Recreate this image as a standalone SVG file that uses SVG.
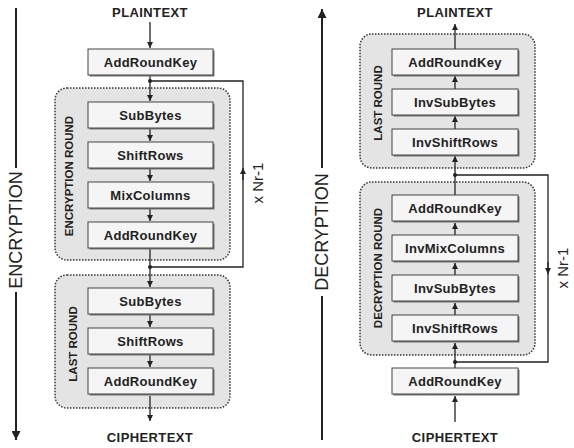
<svg xmlns="http://www.w3.org/2000/svg" width="574" height="448" viewBox="0 0 574 448">
<defs>
<marker id="ah" viewBox="0 0 10 10" refX="10" refY="5" markerWidth="6" markerHeight="6" orient="auto" markerUnits="userSpaceOnUse"><path d="M0,0 L10,5 L0,10 z" fill="#222"/></marker>
<marker id="ahb" viewBox="0 0 10 10" refX="10" refY="5" markerWidth="9" markerHeight="9" orient="auto" markerUnits="userSpaceOnUse"><path d="M0,0 L10,5 L0,10 z" fill="#222"/></marker>
</defs>
<style>
.round{fill:#e4e4e4;stroke:#333;stroke-width:1.5;stroke-dasharray:1.5 1.5}
.sh{fill:#777}
.box{fill:#f5f5f5;stroke:#444;stroke-width:1}
.bt{font-family:"Liberation Sans",Arial,sans-serif;font-weight:bold;font-size:13px;letter-spacing:0.3px;fill:#222;text-anchor:middle}
.io{font-family:"Liberation Sans",Arial,sans-serif;font-weight:bold;font-size:13px;letter-spacing:0.4px;fill:#222;text-anchor:middle}
.rl{font-family:"Liberation Sans",Arial,sans-serif;font-weight:bold;font-size:11.5px;fill:#222;text-anchor:middle}
.big{font-family:"Liberation Sans",Arial,sans-serif;font-size:18px;fill:#222;text-anchor:middle}
.nr{font-family:"Liberation Sans",Arial,sans-serif;font-size:15px;fill:#222;text-anchor:middle}
.ln{stroke:#222;stroke-width:1.3;fill:none}
.bl{stroke:#222;stroke-width:2;fill:none}
.dot{fill:#222}
</style>
<!-- side labels -->
<g id="enc-label">
<line class="bl" x1="16" y1="8" x2="16" y2="168"/>
<line class="bl" x1="16" y1="292" x2="16" y2="440" marker-end="url(#ahb)"/>
<text class="big" transform="translate(22,230) rotate(-90)">ENCRYPTION</text>
</g>
<g id="dec-label">
<line class="bl" x1="322" y1="440" x2="322" y2="296"/>
<line class="bl" x1="322" y1="168" x2="322" y2="9" marker-end="url(#ahb)"/>
<text class="big" transform="translate(328,232) rotate(-90)">DECRYPTION</text>
</g>
<!-- round groups -->
<g id="enc-round">
<rect class="round" x="55" y="88" width="175" height="172" rx="12"/>
<text class="rl" transform="translate(73,176) rotate(-90)">ENCRYPTION ROUND</text>
</g>
<g id="enc-last">
<rect class="round" x="55" y="275" width="175" height="133" rx="12"/>
<text class="rl" transform="translate(77,344) rotate(-90)">LAST ROUND</text>
</g>
<g id="dec-last">
<rect class="round" x="360" y="34" width="175" height="134" rx="12"/>
<text class="rl" transform="translate(382,103) rotate(-90)">LAST ROUND</text>
</g>
<g id="dec-round">
<rect class="round" x="360" y="182" width="175" height="173" rx="12"/>
<text class="rl" transform="translate(382,268) rotate(-90)">DECRYPTION ROUND</text>
</g>
<!-- connectors -->
<g id="connectors">
<line class="ln" x1="150" y1="22" x2="150" y2="48" marker-end="url(#ah)"/>
<line class="ln" x1="150" y1="75" x2="150" y2="101" marker-end="url(#ah)"/>
<line class="ln" x1="150" y1="128" x2="150" y2="141" marker-end="url(#ah)"/>
<line class="ln" x1="150" y1="168" x2="150" y2="181" marker-end="url(#ah)"/>
<line class="ln" x1="150" y1="208" x2="150" y2="221" marker-end="url(#ah)"/>
<line class="ln" x1="150" y1="249" x2="150" y2="287" marker-end="url(#ah)"/>
<line class="ln" x1="150" y1="315" x2="150" y2="327" marker-end="url(#ah)"/>
<line class="ln" x1="150" y1="355" x2="150" y2="367" marker-end="url(#ah)"/>
<line class="ln" x1="150" y1="396" x2="150" y2="421" marker-end="url(#ah)"/>
<polyline class="ln" points="150,267 243,267 243,81 150,81"/>
<line class="ln" x1="243" y1="180" x2="243" y2="168" marker-end="url(#ah)"/>
<circle class="dot" cx="150" cy="81" r="2"/>
<circle class="dot" cx="150" cy="267" r="2"/>
<line class="ln" x1="455" y1="49" x2="455" y2="24" marker-end="url(#ah)"/>
<line class="ln" x1="455" y1="89" x2="455" y2="76" marker-end="url(#ah)"/>
<line class="ln" x1="455" y1="129" x2="455" y2="116" marker-end="url(#ah)"/>
<line class="ln" x1="455" y1="195" x2="455" y2="156" marker-end="url(#ah)"/>
<line class="ln" x1="455" y1="235" x2="455" y2="223" marker-end="url(#ah)"/>
<line class="ln" x1="455" y1="275" x2="455" y2="263" marker-end="url(#ah)"/>
<line class="ln" x1="455" y1="315" x2="455" y2="303" marker-end="url(#ah)"/>
<line class="ln" x1="455" y1="368" x2="455" y2="343" marker-end="url(#ah)"/>
<line class="ln" x1="455" y1="422" x2="455" y2="396" marker-end="url(#ah)"/>
<polyline class="ln" points="455,175 548,175 548,362 455,362"/>
<line class="ln" x1="548" y1="262" x2="548" y2="274" marker-end="url(#ah)"/>
<circle class="dot" cx="455" cy="175" r="2"/>
<circle class="dot" cx="455" cy="362" r="2"/>
<text class="nr" transform="translate(263,183) rotate(-90)">x Nr-1</text>
<text class="nr" transform="translate(568,268) rotate(-90)">x Nr-1</text>
</g>
<!-- texts in/out -->
<g id="enc-plain"><text class="io" x="150" y="17">PLAINTEXT</text></g>
<g id="enc-cipher"><text class="io" x="150" y="442">CIPHERTEXT</text></g>
<g id="dec-plain"><text class="io" x="455" y="17">PLAINTEXT</text></g>
<g id="dec-cipher"><text class="io" x="455" y="442">CIPHERTEXT</text></g>
<!-- left boxes -->
<g id="e-ark0"><rect class="sh" x="89.5" y="50.5" width="125" height="26"/><rect class="box" x="88" y="49" width="125" height="26"/><text class="bt" x="150.5" y="66.5">AddRoundKey</text></g>
<g id="e-sb"><rect class="sh" x="89.5" y="103.5" width="125" height="26"/><rect class="box" x="88" y="102" width="125" height="26"/><text class="bt" x="150.5" y="119.5">SubBytes</text></g>
<g id="e-sr"><rect class="sh" x="89.5" y="143.5" width="125" height="26"/><rect class="box" x="88" y="142" width="125" height="26"/><text class="bt" x="150.5" y="159.5">ShiftRows</text></g>
<g id="e-mc"><rect class="sh" x="89.5" y="183.5" width="125" height="26"/><rect class="box" x="88" y="182" width="125" height="26"/><text class="bt" x="150.5" y="199.5">MixColumns</text></g>
<g id="e-ark1"><rect class="sh" x="89.5" y="223.5" width="125" height="26"/><rect class="box" x="88" y="222" width="125" height="26"/><text class="bt" x="150.5" y="239.5">AddRoundKey</text></g>
<g id="e-sb2"><rect class="sh" x="89.5" y="289.5" width="125" height="26"/><rect class="box" x="88" y="288" width="125" height="26"/><text class="bt" x="150.5" y="305.5">SubBytes</text></g>
<g id="e-sr2"><rect class="sh" x="89.5" y="329.5" width="125" height="26"/><rect class="box" x="88" y="328" width="125" height="26"/><text class="bt" x="150.5" y="345.5">ShiftRows</text></g>
<g id="e-ark2"><rect class="sh" x="89.5" y="369.5" width="125" height="26"/><rect class="box" x="88" y="368" width="125" height="26"/><text class="bt" x="150.5" y="385.5">AddRoundKey</text></g>
<!-- right boxes -->
<g id="d-ark2"><rect class="sh" x="393.5" y="50.5" width="126" height="26"/><rect class="box" x="392" y="49" width="126" height="26"/><text class="bt" x="455" y="66.5">AddRoundKey</text></g>
<g id="d-isb2"><rect class="sh" x="393.5" y="90.5" width="126" height="26"/><rect class="box" x="392" y="89" width="126" height="26"/><text class="bt" x="455" y="106.5">InvSubBytes</text></g>
<g id="d-isr2"><rect class="sh" x="393.5" y="130.5" width="126" height="26"/><rect class="box" x="392" y="129" width="126" height="26"/><text class="bt" x="455" y="146.5">InvShiftRows</text></g>
<g id="d-ark1"><rect class="sh" x="393.5" y="196.5" width="126" height="26"/><rect class="box" x="392" y="195" width="126" height="26"/><text class="bt" x="455" y="212.5">AddRoundKey</text></g>
<g id="d-imc"><rect class="sh" x="393.5" y="236.5" width="126" height="26"/><rect class="box" x="392" y="235" width="126" height="26"/><text class="bt" x="455" y="252.5">InvMixColumns</text></g>
<g id="d-isb"><rect class="sh" x="393.5" y="276.5" width="126" height="26"/><rect class="box" x="392" y="275" width="126" height="26"/><text class="bt" x="455" y="292.5">InvSubBytes</text></g>
<g id="d-isr"><rect class="sh" x="393.5" y="316.5" width="126" height="26"/><rect class="box" x="392" y="315" width="126" height="26"/><text class="bt" x="455" y="332.5">InvShiftRows</text></g>
<g id="d-ark0"><rect class="sh" x="393.5" y="369.5" width="126" height="26"/><rect class="box" x="392" y="368" width="126" height="26"/><text class="bt" x="455" y="385.5">AddRoundKey</text></g>
</svg>
